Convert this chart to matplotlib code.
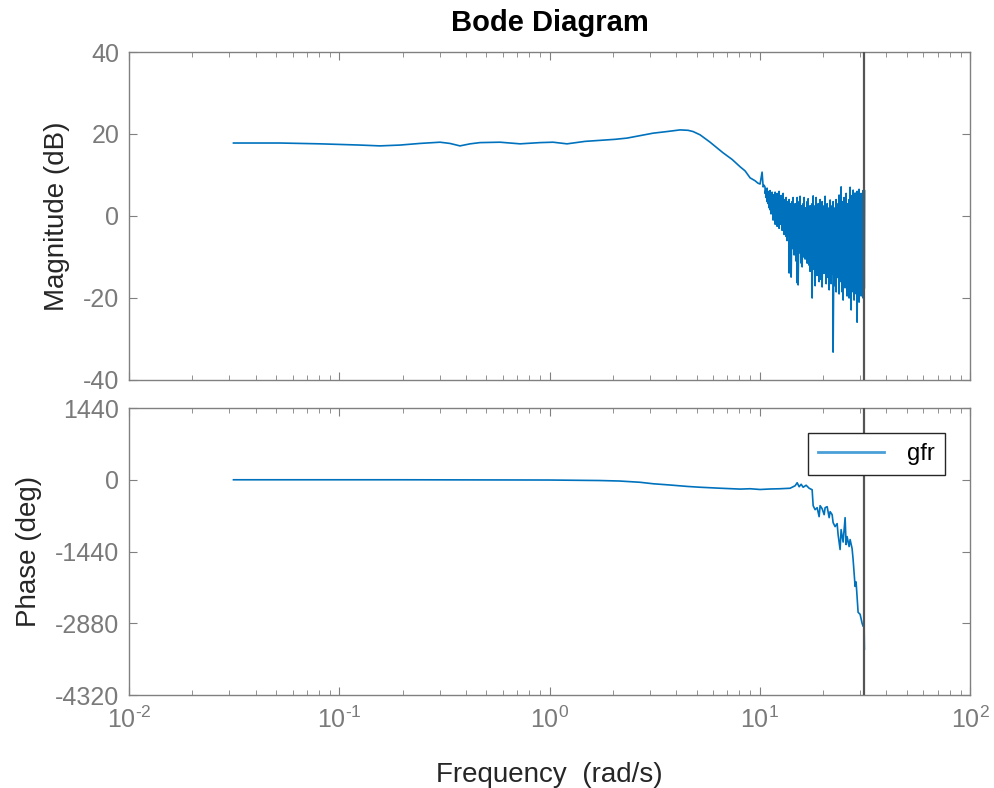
import numpy as np
import matplotlib
matplotlib.use("Agg")
import matplotlib.pyplot as plt
from matplotlib.ticker import FuncFormatter

plt.rcParams['font.family'] = ['Liberation Sans', 'DejaVu Sans']
plt.rcParams['axes.unicode_minus'] = False

# magnitude, smooth part (rad/s, dB)
mag_freq = [0.0314, 0.0523, 0.081, 0.1256, 0.156, 0.1945, 0.242, 0.3014, 0.336,
            0.375, 0.419, 0.467, 0.581, 0.724, 0.901, 1.039, 1.211, 1.475, 1.796,
            2.048, 2.336, 2.694, 3.106, 3.622, 4.175, 4.557, 4.814, 5.198, 5.8,
            6.69, 7.38, 8.06, 8.51, 8.99, 9.49, 9.8, 10.03, 10.25, 10.37, 10.48]
mag_db = [17.8, 17.8, 17.6, 17.3, 17.1, 17.3, 17.7, 18.0, 17.7,
          17.1, 17.6, 17.9, 18.0, 17.6, 17.9, 18.0, 17.6, 18.2, 18.5,
          18.7, 19.0, 19.6, 20.2, 20.6, 21.0, 20.9, 20.6, 19.8, 18.0,
          15.4, 13.8, 12.0, 11.0, 9.3, 8.6, 8.0, 7.8, 10.7, 7.1, 7.5]

# magnitude, noisy part: upper and lower reach of the trace at each frequency
noise_freq = [10.59, 10.71, 10.83, 10.95, 11.07, 11.19, 11.31, 11.44, 11.56, 11.69,
              11.82, 11.95, 12.08, 12.22, 12.35, 12.49, 12.63, 12.77, 12.91, 13.05,
              13.19, 13.34, 13.48, 13.63, 13.78, 13.93, 14.09, 14.24, 14.40, 14.56,
              14.72, 14.88, 15.05, 15.21, 15.38, 15.54, 15.72, 15.89, 16.07, 16.24,
              16.42, 16.60, 16.79, 16.97, 17.16, 17.34, 17.54, 17.73, 17.93, 18.12,
              18.32, 18.52, 18.73, 18.94, 19.14, 19.35, 19.57, 19.78, 20.00, 20.22,
              20.44, 20.67, 20.90, 21.13, 21.36, 21.59, 21.83, 22.07, 22.31, 22.56,
              22.80, 23.05, 23.31, 23.56, 23.82, 24.08, 24.35, 24.62, 24.89, 25.16,
              25.44, 25.72, 26.00, 26.29, 26.58, 26.87, 27.17, 27.46, 27.77, 28.07,
              28.38, 28.69, 29.01, 29.33, 29.65, 29.98, 30.31, 30.64, 30.98, 31.32,
              31.42]
noise_hi = [7.0, 6.5, 6.8, 6.0, 5.5, 6.2, 5.0, 5.8, 5.2, 4.5,
            5.8, 4.8, 5.5, 4.0, 6.0, 4.5, 5.0, 3.5, 5.5, 4.0,
            3.0, 4.5, 3.5, 2.5, 4.0, 3.0, 2.0, 3.5, 4.5, 2.5,
            3.0, 1.5, 4.5, 2.0, 3.5, 4.8, 2.5, 1.0, 3.0, 4.5,
            2.0, 0.5, 3.5, 4.2, 1.5, 2.5, 0.0, 3.0, 4.9, 1.0,
            2.5, 4.5, 0.5, 3.0, 1.5, 4.0, 2.0, 3.5, -0.5, 2.5,
            4.8, 1.0, 3.0, 0.5, 2.0, 3.9, 1.0, 2.5, 3.5, 0.0,
            2.0, 4.0, 1.5, 3.0, 5.1, 2.0, 7.1, 3.5, 1.0, 4.5,
            2.5, 5.5, 3.0, 0.5, 4.0, 7.0, 2.5, 5.0, 6.3, 3.0,
            5.6, 2.0, 6.0, 4.0, 6.5, 3.5, 5.5, 2.5, 6.2, 4.5,
            6.3]
noise_lo = [5.5, 4.5, 3.5, 3.0, 2.0, 1.5, 0.5, 2.5, -1.0, -0.5,
            -2.0, 0.0, -2.5, -1.5, -3.0, -2.0, -0.5, -3.5, -2.0, -4.5,
            -3.0, -5.0, -6.0, -4.5, -13.9, -7.0, -14.9, -6.5, -8.0, -9.5,
            -7.5, -11.0, -16.3, -16.8, -9.0, -8.5, -11.5, -12.4, -10.0, -7.5,
            -10.5, -9.0, -11.5, -8.0, -12.0, -13.5, -10.5, -20.0, -11.0, -13.0,
            -17.0, -9.5, -14.5, -12.0, -16.0, -10.5, -15.5, -17.3, -12.0, -14.0,
            -13.0, -16.5, -11.5, -15.0, -18.0, -12.5, -16.5, -14.0, -33.2, -17.0,
            -13.5, -18.5, -15.0, -12.5, -19.0, -16.0, -14.0, -18.5, -20.5, -15.5,
            -17.5, -13.0, -19.5, -16.0, -20.0, -17.0, -22.9, -15.0, -18.5, -20.5,
            -16.5, -19.0, -25.9, -18.0, -21.0, -17.5, -19.5, -16.0, -20.0, -17.5,
            -17.5]

# phase (rad/s, deg)
ph_freq = [0.0314, 0.1945, 1.0, 1.73, 2.15, 2.69, 3.11, 3.74, 4.53, 5.2,
           6.5, 8.06, 8.99, 10.03, 11.19, 12.49, 13.19, 13.93, 14.72, 15.05,
           15.38, 15.72, 16.07, 16.60, 17.16, 17.73, 17.93, 18.32, 18.73, 19.14,
           19.35, 19.78, 20.22, 20.44, 20.90, 21.36, 21.59, 22.07, 22.31, 22.80,
           23.31, 23.56, 24.08, 24.35, 24.89, 25.44, 25.72, 26.00, 26.58, 26.87,
           27.46, 27.77, 28.38, 28.69, 29.33, 29.98, 30.64, 30.98, 31.32, 31.42]
ph_deg = [0, 0, -5, -15, -25, -50, -80, -105, -134, -150,
          -170, -187, -180, -195, -185, -180, -175, -170, -120, -60,
          -140, -90, -150, -110, -170, -200, -520, -600, -560, -740,
          -520, -580, -700, -560, -540, -760, -640, -700, -860, -940,
          -880, -1100, -1400, -1000, -1250, -760, -1300, -1140, -1340, -1200,
          -1380, -1600, -2140, -2050, -2660, -2700, -2880, -2940, -2900, -3400]

nyquist = 31.42

blue = '#0072BD'
axcol = '#808080'
tickcol = '#7a7a7a'
labcol = '#262626'

# interleave upper/lower reach so the noisy band gets drawn
nf = np.repeat(noise_freq, 2)
nv = np.column_stack([noise_hi, noise_lo]).ravel()
w_mag = np.concatenate([mag_freq, nf])
db = np.concatenate([mag_db, nv])


def decade_label(x, pos):
    # plain hyphen in the exponent, like the original
    e = int(round(np.log10(x)))
    return r'$\mathdefault{10^{%s}}$' % (str(e).replace('-', '\u2010'))


fig = plt.figure(figsize=(9.95, 7.88), dpi=100)
ax1 = fig.add_axes([0.1296, 0.5178, 0.8454, 0.4162])
ax2 = fig.add_axes([0.1296, 0.118, 0.8454, 0.3642])

ax1.plot(w_mag, db, color=blue, lw=1.2)
ax2.plot(ph_freq, ph_deg, color=blue, lw=1.2, label='gfr')

for ax in (ax1, ax2):
    ax.set_xscale('log')
    ax.set_xlim(1e-2, 1e2)
    ax.axvline(nyquist, color='#555555', lw=1.6, zorder=3)
    ax.tick_params(which='both', direction='in', top=True, right=True,
                   colors=axcol, labelcolor=tickcol, labelsize=18)
    ax.tick_params(which='major', length=6)
    ax.tick_params(which='minor', length=3.5)
    ax.tick_params(axis='y', pad=7)
    for s in ax.spines.values():
        s.set_color(axcol)
        s.set_linewidth(1.0)

ax1.set_ylim(-40, 40)
ax1.set_yticks([-40, -20, 0, 20, 40])
ax1.tick_params(labelbottom=False)
ax1.set_ylabel('Magnitude (dB)', fontsize=20, color=labcol)
ax1.yaxis.set_label_coords(-0.07, 0.5)
ax1.set_title('Bode Diagram', fontsize=21, fontweight='bold', pad=15)

ax2.set_ylim(-4320, 1440)
ax2.set_yticks([-4320, -2880, -1440, 0, 1440])
ax2.xaxis.set_major_formatter(FuncFormatter(decade_label))
ax2.set_ylabel('Phase (deg)', fontsize=20, color=labcol)
ax2.yaxis.set_label_coords(-0.103, 0.5)
ax2.set_xlabel('Frequency  (rad/s)', fontsize=20, color=labcol)
ax2.xaxis.set_label_coords(0.5, -0.232)
ax2.tick_params(axis='x', pad=8)

leg = ax2.legend(loc='upper right', bbox_to_anchor=(0.97, 0.913), fontsize=17,
                 handlelength=2.8, handletextpad=1.0, fancybox=False, framealpha=1,
                 edgecolor=labcol, borderpad=0.42, borderaxespad=0)
leg.get_frame().set_linewidth(1.0)
leg.get_lines()[0].set_color('#4A9FD8')
leg.get_lines()[0].set_linewidth(2.0)

plt.savefig('out.png', dpi=100)
